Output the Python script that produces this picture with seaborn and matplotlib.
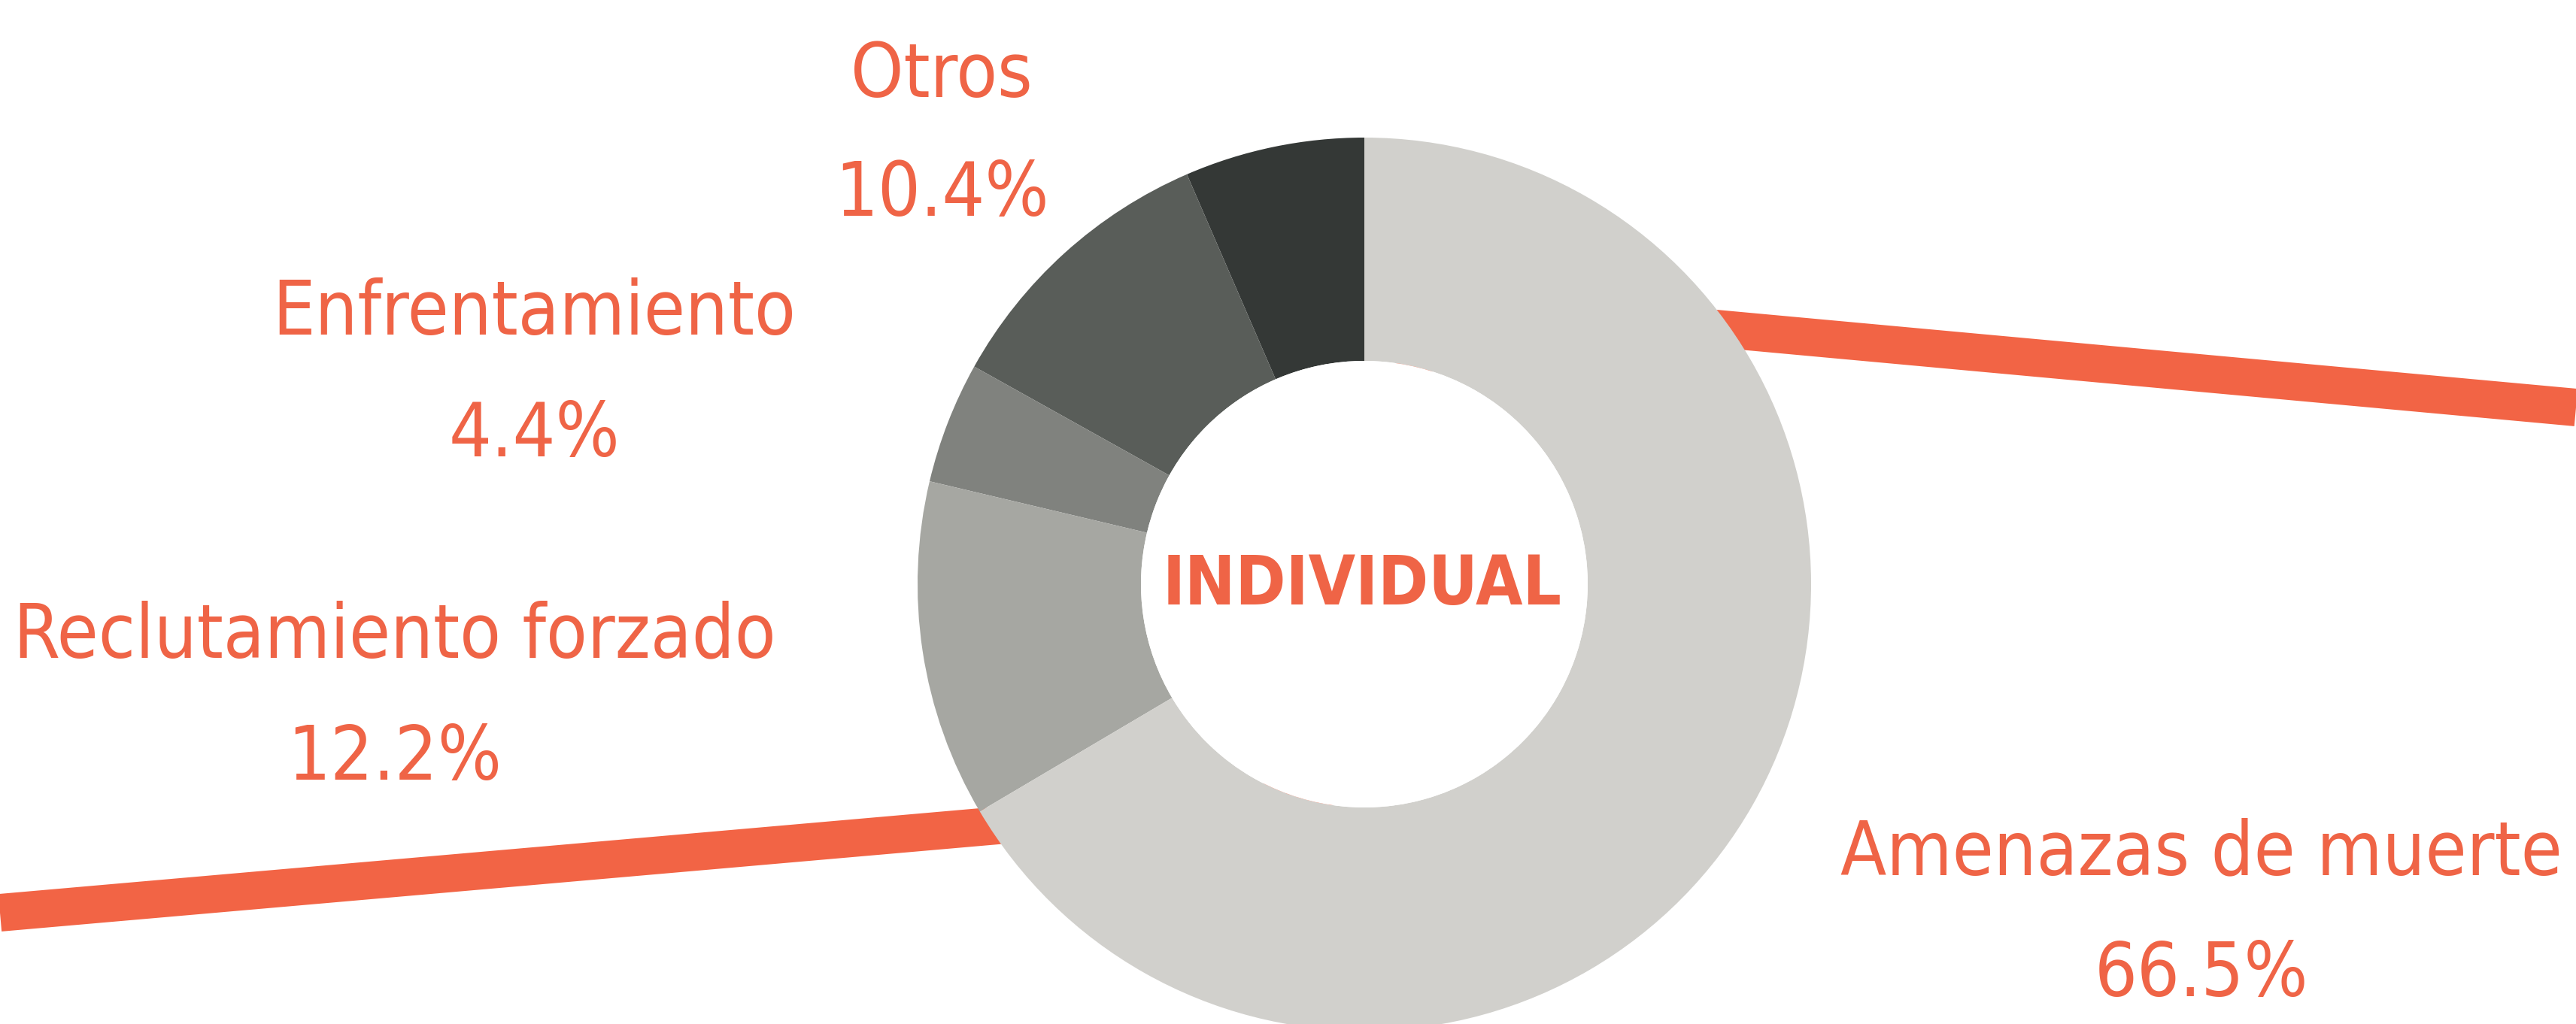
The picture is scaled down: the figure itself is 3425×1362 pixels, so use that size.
import numpy as np
import pandas as pd
import matplotlib
matplotlib.use('Agg')
import matplotlib.pyplot as plt
import seaborn as sns
from matplotlib import font_manager
from matplotlib.patches import Circle

sns.set_theme(style='white')

# data
categorias = ['', 'Otros', 'Enfrentamiento', 'Reclutamiento forzado', 'Amenazas de muerte']
porcentajes = [6.5, 10.4, 4.4, 12.2, 66.5]
colores = ['#343836', '#595d59', '#80827e', '#a6a7a2', '#d1d0cc']
centro = 'INDIVIDUAL'

# background line, in figure pixels (runs behind the donut)
linea_x = [0, 1750, 1900, 3425]
linea_y = [1214, 1061, 402, 542]

naranja = '#ef6446'


def buscar_fuente(archivo, familia, peso):
    for f in font_manager.fontManager.ttflist:
        if f.fname.split('/')[-1] == archivo:
            return font_manager.FontProperties(fname=f.fname)
    return font_manager.FontProperties(family=familia, weight=peso)


fp_reg = buscar_fuente('DejaVuSansCondensed.ttf', 'Roboto', 'normal')
fp_bold = buscar_fuente('DejaVuSansCondensed-Bold.ttf', 'Roboto', 'bold')

W, H = 3425, 1362
fig = plt.figure(figsize=(W / 100, H / 100), dpi=100)
fig.patch.set_facecolor('white')
renderer = fig.canvas.get_renderer()

ax_bg = fig.add_axes([0, 0, 1, 1])
sns.lineplot(x=linea_x, y=linea_y, sort=False, ax=ax_bg, color='#f26445',
             linewidth=36, solid_capstyle='butt')
ax_bg.set_xlim(0, W)
ax_bg.set_ylim(H, 0)
ax_bg.axis('off')


def medir(texto, fp, fs=60):
    t = fig.text(0, 0, texto, fontproperties=fp, fontsize=fs, va='baseline')
    bb = t.get_window_extent(renderer)
    t.remove()
    return bb


fs = 1.08 * 60 * 938 / medir('Reclutamiento forzado', fp_reg).width
fs_c = 60 * 531 / medir(centro, fp_bold).width
bh = medir('H', fp_reg, fs)
cap = bh.y1 - bh.y0
bh = medir('H', fp_bold, fs_c)
cap_c = bh.y1 - bh.y0
dy = (94 - cap) / 2
dy_c = (94 - cap_c) / 2

# label layout: x centre, baseline of name, baseline of percentage
pos = {
    'Otros': (1252, 127, 286),
    'Enfrentamiento': (710, 444, 606),
    'Reclutamiento forzado': (512, 873, 1035),
    'Amenazas de muerte': (2968, 1162, 1323),
}
margen = 18
for cat, val in zip(categorias, porcentajes):
    if cat not in pos:
        continue
    x, y1, y2 = pos[cat]
    mitad = medir(cat, fp_reg, fs).width / 2
    x = min(max(x, margen + mitad), W - margen - mitad)
    ax_bg.text(x, y1 - dy, cat, ha='center', va='baseline', fontproperties=fp_reg,
               fontsize=fs, color=naranja)
    ax_bg.text(x, y2 - dy, f'{val:.1f}%', ha='center', va='baseline', fontproperties=fp_reg,
               fontsize=fs, color=naranja)

# donut
cx, cy, r = 1814, 777, 594
ax = fig.add_axes([(cx - r) / W, (H - cy - r) / H, 2 * r / W, 2 * r / H])
ax.pie(porcentajes, colors=colores, startangle=90, counterclock=True,
       radius=1, wedgeprops=dict(width=0.5, edgecolor='none'))
ax.add_patch(Circle((0, 0), 0.5, facecolor='white', edgecolor='none'))
ax.set_xlim(-1, 1)
ax.set_ylim(-1, 1)
ax.axis('off')
ax.text(-0.005, -(807 - dy_c - cy) / r, centro, ha='center', va='baseline',
        fontproperties=fp_bold, fontsize=fs_c, color=naranja)

fig.savefig('out.png', dpi=100, facecolor='white')
